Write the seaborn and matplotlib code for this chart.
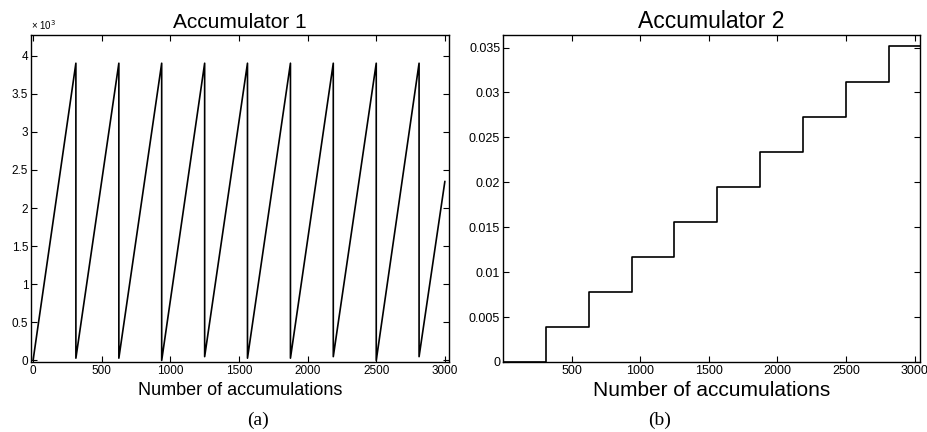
import matplotlib
matplotlib.use("Agg")
import matplotlib.pyplot as plt
import seaborn as sns

# Accumulator 1: sawtooth vertices (values in units of 1e-3)
acc1_x = [0, 312, 312, 625, 625, 937, 937, 1250, 1250, 1562, 1562,
          1875, 1875, 2187, 2187, 2500, 2500, 2812, 2812, 3000]
acc1_y = [0.0, 3.9, 0.03, 3.9, 0.03, 3.9, 0.0, 3.9, 0.05, 3.9, 0.03,
          3.9, 0.03, 3.9, 0.05, 3.9, 0.0, 3.9, 0.05, 2.35]

# Accumulator 2: staircase levels
acc2_x = [0, 312, 625, 937, 1250, 1562, 1875, 2187, 2500, 2812, 3040]
acc2_y = [0.0, 0.0039, 0.0078, 0.0117, 0.0156, 0.0195, 0.0234,
          0.0273, 0.0312, 0.0352, 0.0352]

acc1_xticks = [0, 500, 1000, 1500, 2000, 2500, 3000]
acc1_yticks = [0, 0.5, 1, 1.5, 2, 2.5, 3, 3.5, 4]
acc1_yticklabels = ["0", "0.5", "1", "1.5", "2", "2.5", "3", "3.5", "4"]
acc2_xticks = [500, 1000, 1500, 2000, 2500, 3000]
acc2_yticks = [0, 0.005, 0.01, 0.015, 0.02, 0.025, 0.03, 0.035]
acc2_yticklabels = ["0", "0.005", "0.01", "0.015", "0.02", "0.025", "0.03", "0.035"]

sns.set_style("ticks")
plt.rcParams["font.family"] = ["Liberation Sans", "DejaVu Sans"]
plt.rcParams.update({
    "text.color": "black",
    "axes.labelcolor": "black",
    "xtick.color": "black",
    "ytick.color": "black",
    "axes.edgecolor": "black",
})

fig = plt.figure(figsize=(9.27, 4.32), dpi=100)
ax1 = fig.add_axes([31 / 927, 70 / 432, 418 / 927, 327 / 432])
ax2 = fig.add_axes([503 / 927, 70 / 432, 417 / 927, 327 / 432])

sns.lineplot(x=acc1_x, y=acc1_y, estimator=None, sort=False,
             color="black", linewidth=1.2, ax=ax1)
sns.lineplot(x=acc2_x, y=acc2_y, estimator=None, sort=False,
             drawstyle="steps-post", color="black", linewidth=1.2, ax=ax2)

ax1.set_xlim(-15, 3030)
ax1.set_ylim(-0.02, 4.27)
ax1.set_xticks(acc1_xticks)
ax1.set_yticks(acc1_yticks)
ax1.set_yticklabels(acc1_yticklabels)
ax1.set_title("Accumulator 1", fontsize=15, pad=5)
ax1.set_xlabel("Number of accumulations", fontsize=13, labelpad=4)
ax1.text(0.0, 1.01, "× 10$^{3}$", transform=ax1.transAxes,
         fontsize=7, ha="left", va="bottom")

ax2.set_xlim(0, 3040)
ax2.set_ylim(0, 0.0364)
ax2.set_xticks(acc2_xticks)
ax2.set_yticks(acc2_yticks)
ax2.set_yticklabels(acc2_yticklabels)
ax2.set_title("Accumulator 2", fontsize=16.5, pad=5)
ax2.set_xlabel("Number of accumulations", fontsize=15, labelpad=3)

for ax, fs in ((ax1, 8.5), (ax2, 9)):
    ax.tick_params(direction="in", length=4, width=0.8, labelsize=fs,
                   top=True, right=True, pad=2)
    for side in ax.spines.values():
        side.set_visible(True)
        side.set_linewidth(1.0)
        side.set_color("black")

fig.text(258 / 927, 1 - 420 / 432, "(a)", family="Liberation Serif",
         fontsize=14, ha="center", va="center")
fig.text(660 / 927, 1 - 420 / 432, "(b)", family="Liberation Serif",
         fontsize=14, ha="center", va="center")

fig.savefig("out.png", dpi=100)
